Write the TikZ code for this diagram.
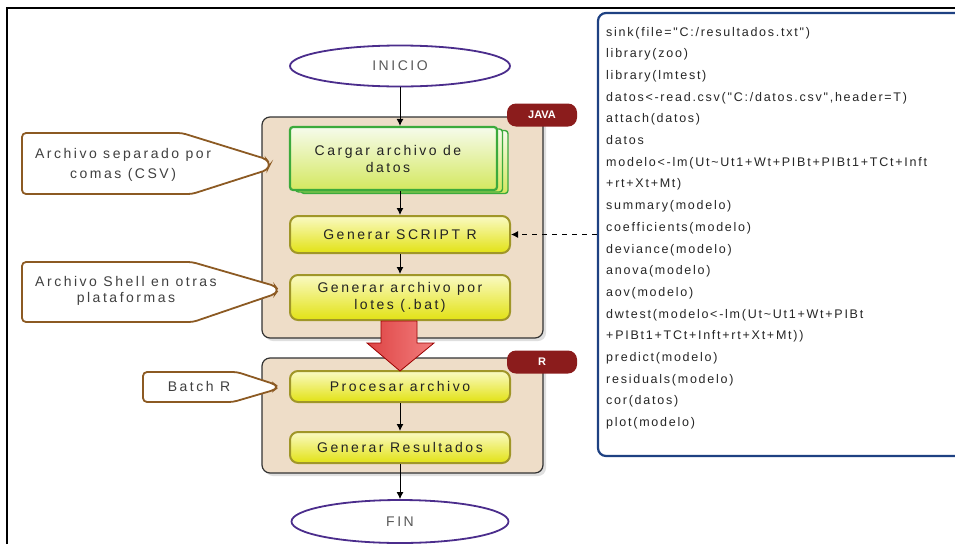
\documentclass[tikz,border=0pt]{standalone}
\usepackage{fontspec}
\setmainfont{Liberation Sans}
\newfontfamily\boxfont[LetterSpace=18]{Liberation Sans}
\newfontfamily\codefont[LetterSpace=14]{Liberation Sans}
\usetikzlibrary{arrows.meta,shapes.geometric,shadows,calc}
\definecolor{contfill}{RGB}{238,221,200}
\definecolor{tagred}{RGB}{139,28,28}
\definecolor{purp}{RGB}{75,45,140}
\definecolor{brownc}{RGB}{140,90,35}
\definecolor{codeblue}{RGB}{30,65,130}
\definecolor{ylwtop}{RGB}{250,250,195}
\definecolor{ylwbot}{RGB}{226,226,20}
\definecolor{ylwborder}{RGB}{160,150,40}
\definecolor{grntop}{RGB}{246,251,236}
\definecolor{grnbot}{RGB}{212,232,95}
\definecolor{grnborder}{RGB}{60,170,60}
\definecolor{redl}{RGB}{222,68,68}
\definecolor{redr}{RGB}{242,125,125}
\definecolor{txt}{RGB}{35,35,35}
\tikzset{
  cont/.style={draw=black!80, line width=1.2, rounded corners=8, fill=contfill,
    drop shadow={opacity=0.25, shadow xshift=3pt, shadow yshift=-3pt}},
  tagbox/.style={fill=tagred, text=white, rounded corners=9, minimum width=70,
    minimum height=23, inner sep=0, font=\fontsize{11}{13}\selectfont\bfseries},
  ybox/.style={draw=ylwborder, line width=2, rounded corners=8, top color=ylwtop,
    bottom color=ylwbot, minimum width=220, inner sep=0, text=txt, align=center,
    font=\boxfont\fontsize{14}{17}\selectfont},
  gbox/.style={draw=grnborder, line width=2.2, rounded corners=3, top color=grntop,
    bottom color=grnbot, minimum width=207, minimum height=63, inner sep=0},
  term/.style={ellipse, draw=purp, line width=1.8, fill=white, inner sep=0,
    text=black!65, font=\boxfont\fontsize{14}{17}\selectfont},
  callout/.style={draw=brownc, line width=1.8, fill=white, rounded corners=4},
  calltext/.style={text=black!75, align=center, inner sep=0,
    font=\boxfont\fontsize{14}{20}\selectfont},
  codeline/.style={anchor=base west, inner sep=0, text=black!85,
    font=\codefont\fontsize{12.5}{14}\selectfont},
  flow/.style={line width=1, -{Latex[length=7,width=7]}},
}
\begin{document}
\begin{tikzpicture}[x=1pt,y=-1pt]
\useasboundingbox (0,0) rectangle (955,544);
\clip (0,0) rectangle (955,544);
% outer frame
\draw[line width=1.5] (7,544) -- (7,8) -- (955,8);

% code box
\node[draw=codeblue, line width=2.2, rounded corners=8, fill=white,
      minimum width=380, minimum height=443, inner sep=0] (code) at (788,234.5) {};
\foreach \t [count=\i] in {
  sink(file="C:/resultados.txt"),
  library(zoo),
  library(lmtest),
  {datos<-read.csv("C:/datos.csv",header=T)},
  attach(datos),
  datos,
  modelo<-lm(Ut\textasciitilde Ut1+Wt+PIBt+PIBt1+TCt+Inft,
  +rt+Xt+Mt),
  summary(modelo),
  coefficients(modelo),
  deviance(modelo),
  anova(modelo),
  aov(modelo),
  dwtest(modelo<-lm(Ut\textasciitilde Ut1+Wt+PIBt,
  +PIBt1+TCt+Inft+rt+Xt+Mt)),
  predict(modelo),
  residuals(modelo),
  cor(datos),
  plot(modelo)}
  \node[codeline] (c\i) at (606,{36+21.7*(\i-1)}) {\t};

% containers
\node[cont, minimum width=281, minimum height=221] (java) at (402.5,227.5) {};
\node[cont, minimum width=281, minimum height=115] (rbox) at (402.5,415.5) {};
\node[tagbox] (javatag) at (542,115) {JAVA};
\node[tagbox] (rtag) at (542,362) {R};

% terminals
\node[term, minimum width=220, minimum height=41] (ini) at (400,66) {INICIO};
\node[term, minimum width=217, minimum height=43] (fin) at (400,521.5) {FIN};

% stacked load box
\node[gbox, line width=1.4] (cargC) at (404.5,162) {};
\node[gbox, line width=1.4] (cargB) at (399,160.5) {};
\node[gbox] (carg) at (393.5,158.5) {};
\node[text=txt, align=center, inner sep=0, font=\boxfont\fontsize{14}{17}\selectfont]
  (cargt) at (388,158.5) {Cargar archivo de\\datos};

% process boxes
\node[ybox, minimum height=37] (script) at (400,234.5) {Generar SCRIPT R};
\node[ybox, minimum height=45] (bat) at (400,297.5) {Generar archivo por\\lotes (.bat)};
\node[ybox, minimum height=31] (proc) at (400,386.5) {Procesar archivo};
\node[ybox, minimum height=31] (res) at (400,447.5) {Generar Resultados};

% big red arrow
\draw[draw=red!60!black, line width=0.8, left color=redl, right color=redr]
  (381,321) -- (417,321) -- (417,343) -- (434,343) -- (400,371) -- (367,343)
  -- (381,343) -- cycle;

% connectors
\draw[flow] (ini.south) -- (ini.south |- carg.north);
\draw[flow] (carg.south -| script.north) -- (script.north);
\draw[flow] (script.south) -- (bat.north);
\draw[flow] (proc.south) -- (res.north);
\draw[flow] (res.south) -- (fin.north);
\draw[line width=1, dashed, dash pattern=on 5pt off 5pt, -{Latex[length=7,width=7]}]
  (code.west) -- (script.east);

% callouts
\draw[callout] (22,133) -- (182,133) -- (266,159) -- (270,164) -- (267,170)
  -- (192,194) -- (22,194) -- cycle;
\node[calltext] (csv) at (123,165) {Archivo separado por\\comas (CSV)};
\draw[callout] (22,262) -- (192,262) -- (275,286) -- (278,290) -- (275,294)
  -- (193,322) -- (22,322) -- cycle;
\node[calltext, font=\boxfont\fontsize{14}{16}\selectfont] (shell) at (126,291)
  {Archivo Shell en otras\\plataformas};
\draw[callout] (143,372) -- (237,372) -- (274,384) -- (278,387) -- (274,390)
  -- (233,402) -- (143,402) -- cycle;
\node[calltext] (batch) at (199,386.5) {Batch R};
\end{tikzpicture}
\end{document}
